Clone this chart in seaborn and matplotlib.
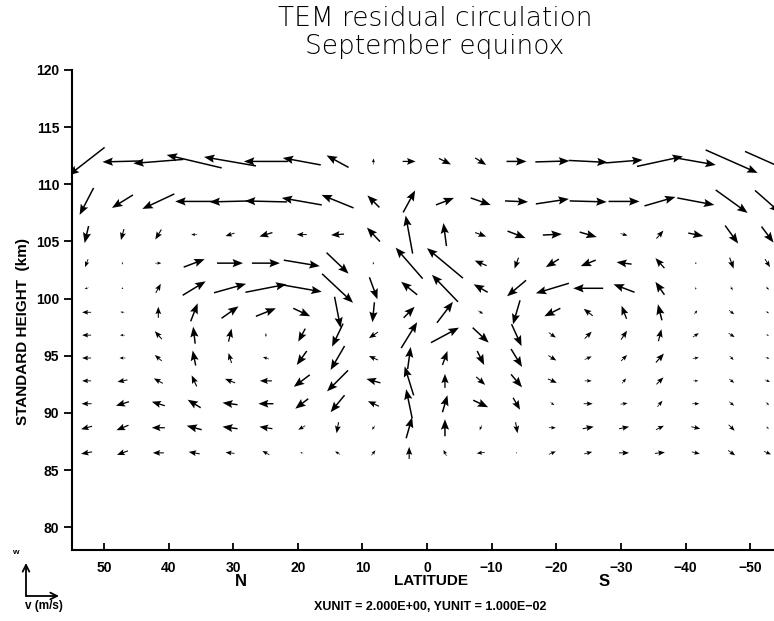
import numpy as np
import matplotlib
matplotlib.use("Agg")
import matplotlib.pyplot as plt
from matplotlib.transforms import blended_transform_factory
import seaborn as sns

# T21 gaussian latitudes, north -> south
lats = [52.69, 47.14, 41.59, 36.04, 30.49, 24.94, 19.39, 13.85, 8.30, 2.77,
        -2.77, -8.30, -13.85, -19.39, -24.94, -30.49, -36.04, -41.59, -47.14, -52.69]
heights = [86.5, 88.7, 90.8, 92.8, 94.8, 96.8, 98.8, 100.9, 103.1, 105.6, 108.5, 112.0]

# residual meridional wind v (m/s, northward > 0), one list per height
v_865 = [2.2, 2.2, 2.2, 2.2, 1.8, 1.4, 0.6, 1.0, -0.8, 0.0, 0.6, 1.6, 0.0, -1.4, -1.6, -2.0, -2.0, -1.6, -1.4, -1.4]
v_887 = [2.2, 2.4, 2.6, 3.0, 3.0, 2.6, 1.4, 0.4, 0.6, -1.2, 0.0, 0.4, -0.4, -1.4, -2.2, -2.0, -1.6, -1.8, -1.2, -0.6]
v_908 = [2.0, 2.6, 2.6, 2.6, 3.0, 3.0, 2.6, 2.8, 2.2, 1.2, -1.0, -3.0, -1.4, -0.8, -1.8, -1.4, -1.0, -1.4, -1.0, -0.6]
v_928 = [1.8, 2.0, 1.8, 1.0, 2.0, 2.4, 3.2, 4.2, 2.8, 1.8, 0.0, -1.8, -2.2, -1.8, -1.4, -0.8, -1.4, -1.0, -1.0, -1.0]
v_948 = [1.8, 1.2, 1.4, 0.6, 0.6, 1.2, 2.0, 2.8, 1.8, -0.6, -1.0, -1.4, -2.2, -1.6, -1.4, -1.2, -1.6, -1.2, -0.8, -0.8]
v_968 = [1.8, 1.0, 1.4, 0.4, -0.6, 0.0, 1.4, 2.2, 1.8, -3.2, -5.6, -3.2, -2.0, -1.4, -1.4, -1.2, -0.6, -1.2, -1.2, -0.6]
v_988 = [1.8, 0.8, 0.0, -1.4, -3.4, -4.0, -3.4, -1.2, 0.4, -2.2, -3.2, -1.0, 1.4, 3.2, 1.8, 1.0, 0.8, -0.6, -1.0, -0.6]
v_1009 = [0.8, 0.2, -1.0, -4.6, -6.4, -8.2, -8.0, -6.2, -1.6, 3.2, 5.2, 2.8, 3.8, 6.6, 6.0, 4.2, 1.8, 0.0, -0.4, -0.6]
v_1031 = [0.6, 0.0, -1.2, -4.2, -5.2, -5.6, -7.2, -4.4, 0.2, 5.4, 7.2, 2.4, 0.8, 2.6, 3.0, 3.0, 1.8, -0.2, -0.8, -1.0]
v_1056 = [0.8, 0.6, 1.2, 1.2, 1.8, 2.6, 2.0, 2.6, 2.6, 1.4, 0.6, -2.2, -3.6, -3.8, -3.4, -1.4, -1.4, -3.0, -2.6, -2.4]
v_1085 = [2.8, 4.2, 6.4, 7.6, 8.2, 8.4, 8.0, 6.4, 2.4, -2.4, -3.6, -4.0, -4.6, -6.6, -7.4, -6.2, -6.2, -7.4, -6.4, -5.0]
v_1120 = [7.2, 8.0, 10.0, 11.0, 10.4, 8.8, 7.6, 4.4, 0.0, -2.6, -2.4, -2.2, -4.0, -6.8, -7.8, -7.4, -9.2, -8.0, -10.4, -9.0]

# residual vertical wind w (mm/s, upward > 0)
w_865 = [-2, -4, 0, 2, 1, 4, 1, 3, 5, 12, 6, -1, 2, 3, 2, 0, 1, -2, -5, -3]
w_887 = [-3, -5, 0, 4, 2, 2, -4, -11, -4, 21, 17, -5, -11, 0, 2, 2, 4, -2, -6, -2]
w_908 = [0, -4, 4, 8, 2, 0, -10, -17, 5, 29, 17, -7, -12, -3, 0, 1, 6, 0, -4, -3]
w_928 = [0, -2, 5, 11, 4, 0, -12, -21, 4, 29, 14, -8, -13, -4, 0, 5, 7, 0, -4, -2]
w_948 = [0, 0, 6, 15, 10, 2, -14, -24, 4, 22, 14, -14, -18, -5, 3, 6, 9, 1, -4, -1]
w_968 = [0, 0, 8, 17, 13, 4, -13, -23, -6, 26, 15, -15, -22, -5, 7, 9, 12, 4, -4, -1]
w_988 = [0, 1, 11, 18, 12, 8, -8, -31, -20, 11, 21, -3, -24, -8, 7, 13, 16, 4, -4, -2]
w_1009 = [-1, 0, 9, 14, 9, 8, -7, -29, -22, 13, 27, 8, -16, -10, 0, 8, 13, -3, -4, -3]
w_1031 = [-8, -3, 0, 8, 0, 0, -6, -21, -3, 31, 30, 5, -11, -8, -6, 2, 10, 0, -11, -8]
w_1056 = [-17, -11, -10, 0, -3, -4, 0, -1, 14, 38, 23, -4, -7, 1, -5, -2, 8, -3, -18, -16]
w_1085 = [-27, -13, -15, 0, -1, 1, 7, 13, 12, 22, 7, -7, -1, 5, -1, 0, 9, -7, -23, -22]
w_1120 = [-28, -1, -4, 13, 9, 0, 7, 12, 6, 0, -6, -7, 0, 1, -2, 3, 10, -7, -23, -20]

lat_ticks = [50, 40, 30, 20, 10, 0, -10, -20, -30, -40, -50]
height_ticks = [80, 85, 90, 95, 100, 105, 110, 115, 120]

# arrow length scale: 10 px = XUNIT (2 m/s) horizontally, 10 px = 1 cm/s vertically
PX_PER_MS = 5.0
PX_PER_MMS = 1.0

v = np.array([v_865, v_887, v_908, v_928, v_948, v_968, v_988,
              v_1009, v_1031, v_1056, v_1085, v_1120])
w = np.array([w_865, w_887, w_908, w_928, w_948, w_968, w_988,
              w_1009, w_1031, w_1056, w_1085, w_1120], dtype=float)
LAT, Z = np.meshgrid(lats, heights)

sns.set_style("ticks")
plt.rcParams["font.family"] = ["Liberation Sans", "DejaVu Sans"]
for key in ["text.color", "axes.labelcolor", "xtick.color", "ytick.color",
            "axes.edgecolor"]:
    plt.rcParams[key] = "black"

fig = plt.figure(figsize=(7.74, 6.21), dpi=100)
ax = fig.add_axes([0.0926, 0.1143, 0.9183, 0.7730])

# latitude axis runs north -> south, so northward wind points left on screen
ax.quiver(LAT, Z, -v * PX_PER_MS, w * PX_PER_MMS,
          angles="uv", scale_units="dots", scale=1, units="dots",
          pivot="middle", width=1.5, headwidth=5.5, headlength=7,
          headaxislength=6, minshaft=1.5, color="black")

ax.set_xlim(55, -55)
ax.set_ylim(78, 120)
ax.set_xticks(lat_ticks)
ax.set_xticklabels([f"{t:d}".replace("-", "\u2212") for t in lat_ticks])
ax.set_yticks(height_ticks)
ax.tick_params(axis="x", direction="in", length=5, width=1.3, pad=8,
               labelsize=10)
ax.tick_params(axis="y", direction="out", length=6, width=1.3, pad=3,
               labelsize=10)
for lab in ax.get_xticklabels() + ax.get_yticklabels():
    lab.set_fontweight("bold")
sns.despine(ax=ax, top=True, right=True)
for side in ["left", "bottom"]:
    ax.spines[side].set_linewidth(1.5)

ax.set_ylabel("STANDARD HEIGHT  (km)", fontsize=11, fontweight="bold")
ax.yaxis.set_label_coords(-0.059, 0.456)
ax.set_xlabel("LATITUDE", fontsize=11, fontweight="bold")
ax.xaxis.set_label_coords(0.5055, -0.05)

trans = blended_transform_factory(ax.transAxes, ax.transAxes)
ax.text(0.238, -0.05, "N", transform=trans, ha="center", va="top",
        fontsize=12, fontweight="bold")
ax.text(0.749, -0.05, "S", transform=trans, ha="center", va="top",
        fontsize=12, fontweight="bold")

fig.text(0.562, 0.947, "TEM residual circulation\nSeptember equinox",
         ha="center", va="center", fontsize=19, linespacing=1.15,
         family="DejaVu Sans", fontweight="light")

# reference vector key (bottom left)
ax.annotate("", xy=(26, 58), xytext=(26, 25), xycoords="figure pixels",
            textcoords="figure pixels",
            arrowprops=dict(arrowstyle="->", lw=1.3, mutation_scale=12,
                            shrinkA=0, shrinkB=0, color="black"),
            annotation_clip=False)
ax.annotate("", xy=(59, 25), xytext=(26, 25), xycoords="figure pixels",
            textcoords="figure pixels",
            arrowprops=dict(arrowstyle="->", lw=1.3, mutation_scale=12,
                            shrinkA=0, shrinkB=0, color="black"),
            annotation_clip=False)
fig.text(15 / 774, 68 / 621, "w", fontsize=6, fontweight="bold",
         ha="center", va="center")
fig.text(25 / 774, 15 / 621, "v (m/s)", fontsize=8.5, fontweight="bold",
         ha="left", va="center")
fig.text(430 / 774, 14 / 621, "XUNIT = 2.000E+00, YUNIT = 1.000E\u221202",
         fontsize=9, fontweight="bold", ha="center", va="center")

fig.savefig("out.png", dpi=100)
